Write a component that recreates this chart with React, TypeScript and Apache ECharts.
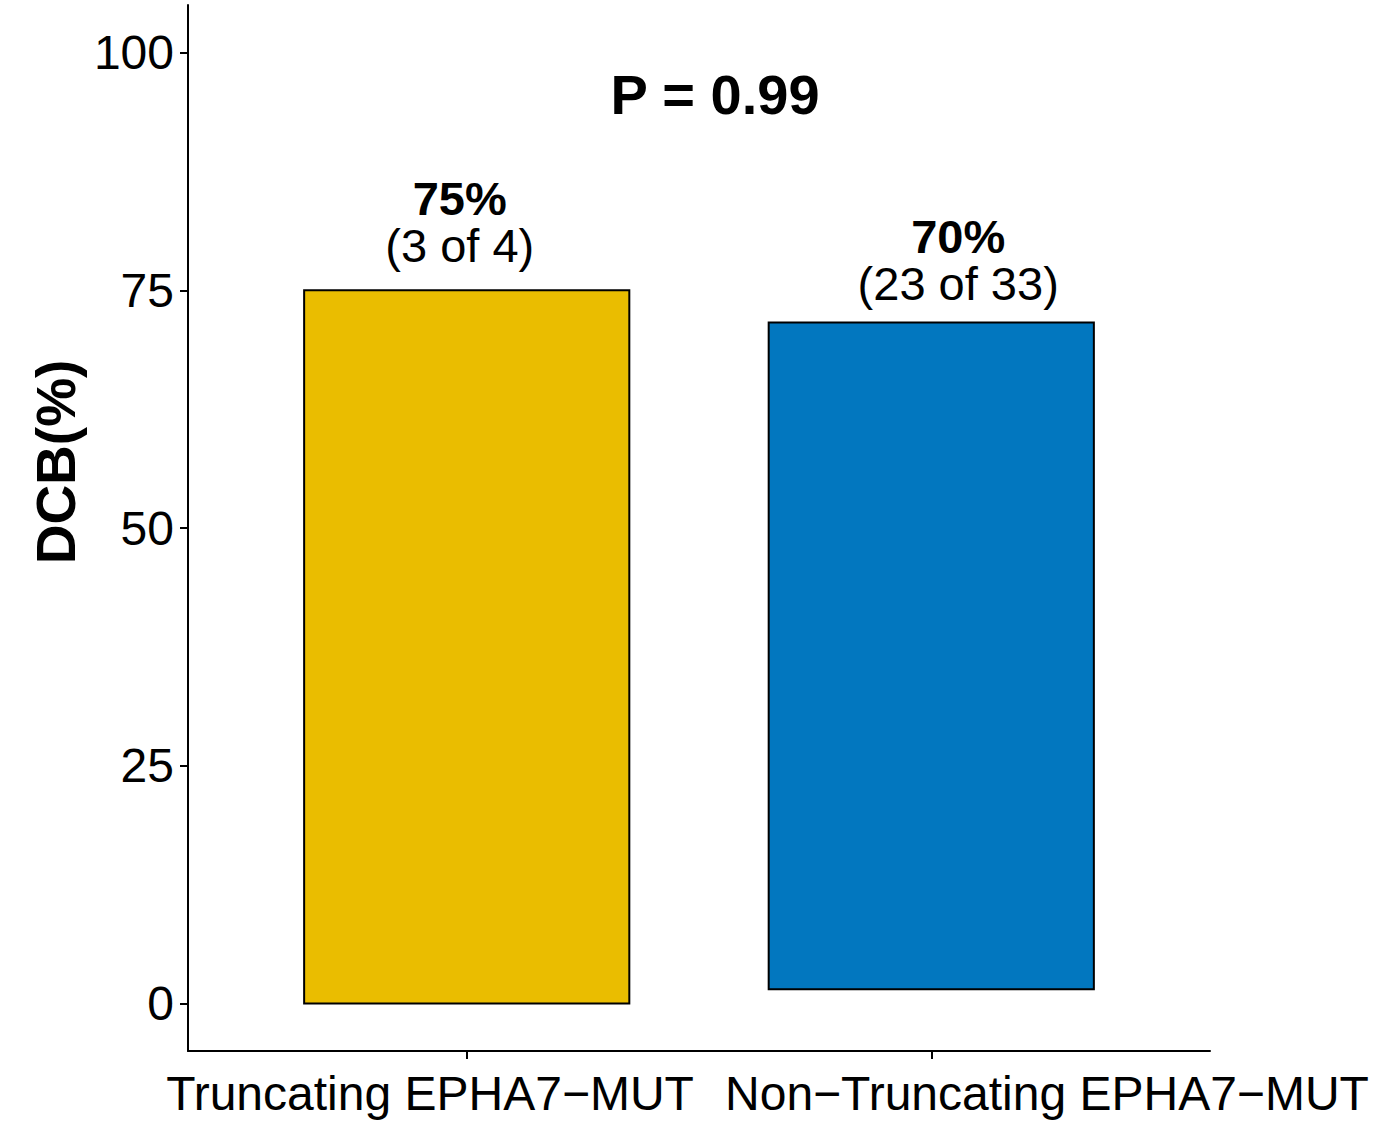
import React, { useEffect, useRef } from "react";
import * as echarts from "echarts";

const categories = ["Truncating EPHA7−MUT", "Non−Truncating EPHA7−MUT"];
const categoryPos = [1, 2];
const categoryLabelPos = [0.921, 2.249];
const barBase = [0, 1.5];
const barTop = [75, 71.6];
const barColors = ["#EABD00", "#0277BF"];
const pctLabels = ["75%", "70%"];
const countLabels = ["(3 of 4)", "(23 of 33)"];
const labelX = [0.985, 2.058];
const labelY = [77.25, 73.25];
const yTicks = [0, 25, 50, 75, 100];
const yTitle = "DCB(%)";
const pValueText = "P = 0.99";

const FONT = "'Liberation Sans', Arial, Helvetica, sans-serif";

export default function App() {
  const ref = useRef<HTMLDivElement>(null);
  useEffect(() => {
    if (!ref.current) return;
    const chart = echarts.init(ref.current, null, { renderer: "svg" });
    const barData = categoryPos.map((x, i) => [x, barBase[i], barTop[i]]);
    const labelData = labelX.map((x, i) => [x, labelY[i], i]);
    chart.setOption({
      animation: false,
      backgroundColor: "#ffffff",
      grid: { left: 188, right: 183, top: 5, bottom: 76, containLabel: false },
      xAxis: {
        type: "value",
        min: 0.4,
        max: 2.6,
        splitLine: { show: false },
        axisLine: { show: true, onZero: false, lineStyle: { color: "#000", width: 2 } },
        axisTick: { show: true, customValues: categoryPos, length: 8, lineStyle: { color: "#000", width: 2 } },
        axisLabel: {
          customValues: categoryLabelPos,
          formatter: (v: number) => {
            const idx = categoryLabelPos.findIndex((p) => Math.abs(p - v) < 1e-6);
            return idx >= 0 ? categories[idx] : "";
          },
          hideOverlap: false,
          interval: 0,
          showMinLabel: true,
          showMaxLabel: true,
          color: "#000",
          fontSize: 48,
          fontFamily: FONT,
          margin: 18,
        },
      },
      yAxis: {
        type: "value",
        min: -5,
        max: 105,
        splitLine: { show: false },
        axisLine: { show: true, onZero: false, lineStyle: { color: "#000", width: 2 } },
        axisTick: { show: true, customValues: yTicks, length: 8, lineStyle: { color: "#000", width: 2 } },
        axisLabel: {
          customValues: yTicks,
          color: "#000",
          fontSize: 48,
          fontFamily: FONT,
          margin: 14,
        },
      },
      graphic: [
        {
          type: "text",
          x: 715,
          y: 94,
          style: {
            text: pValueText,
            fontSize: 56,
            fontWeight: "bold",
            fontFamily: FONT,
            fill: "#000",
            align: "center",
            verticalAlign: "middle",
          },
        },
        {
          type: "text",
          x: 56,
          y: 462,
          rotation: Math.PI / 2,
          style: {
            text: yTitle,
            fontSize: 55,
            fontWeight: "bold",
            fontFamily: FONT,
            fill: "#000",
            align: "center",
            verticalAlign: "middle",
          },
        },
      ],
      series: [
        {
          type: "custom",
          data: barData,
          renderItem: (params: any, api: any) => {
            const x = api.value(0);
            const b = api.value(1);
            const t = api.value(2);
            const p0 = api.coord([x, t]);
            const p1 = api.coord([x, b]);
            const w = api.size([0.7, 0])[0];
            return {
              type: "rect",
              shape: { x: p0[0] - w / 2, y: p0[1], width: w, height: p1[1] - p0[1] },
              style: { fill: barColors[params.dataIndex], stroke: "#000", lineWidth: 2 },
            };
          },
        },
        {
          type: "custom",
          data: labelData,
          renderItem: (params: any, api: any) => {
            const p = api.coord([api.value(0), api.value(1)]);
            const i = params.dataIndex;
            return {
              type: "text",
              x: p[0],
              y: p[1],
              style: {
                text: `{b|${pctLabels[i]}}\n{n|${countLabels[i]}}`,
                align: "center",
                verticalAlign: "bottom",
                fill: "#000",
                rich: {
                  b: { fontSize: 47, fontWeight: "bold", fontFamily: FONT, lineHeight: 47, fill: "#000", align: "center" },
                  n: { fontSize: 47, fontFamily: FONT, lineHeight: 47, fill: "#000", align: "center" },
                },
              },
            };
          },
        },
      ],
    });
    return () => chart.dispose();
  }, []);
  return (
    <div
      ref={ref}
      style={{ position: "absolute", left: 0, top: 0, width: 1393, height: 1127 }}
    />
  );
}
